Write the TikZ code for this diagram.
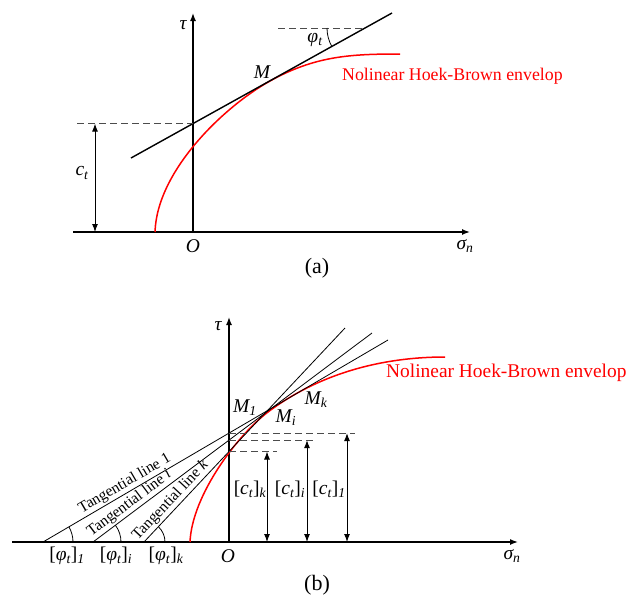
\documentclass[tikz,border=0pt]{standalone}
\usepackage{fontspec}
\setmainfont{Liberation Serif}
\usetikzlibrary{arrows.meta}
\begin{document}
\begin{tikzpicture}[x=1pt,y=-1pt,
  axis/.style={line width=1.4pt,-{Latex[length=8pt,width=6pt]}},
  tline/.style={line width=1.4pt},
  fline/.style={line width=0.8pt},
  envelope/.style={red,line width=1.5pt},
  guide/.style={dash pattern=on 7pt off 4pt,line width=1pt,black!70},
  dim/.style={line width=1pt,{Latex[length=8pt,width=6pt]}-{Latex[length=8pt,width=6pt]}},
  lab/.style={font=\fontsize{19.5}{22}\selectfont\itshape,inner sep=1pt},
  tlab/.style={font=\fontsize{15.5}{17}\selectfont,inner sep=1.5pt,sloped,above},
  redlab/.style={red,anchor=west,inner sep=0pt},
  captext/.style={font=\fontsize{22}{25}\selectfont}
]
\useasboundingbox (0,0) rectangle (632,603);

% ---------------- panel (a) ----------------
\coordinate (a-o) at (193,232);
\coordinate (a-xl) at (73,232);
\coordinate (a-xr) at (470,232);
\coordinate (a-yt) at (193,13);
\draw[axis] (a-xl) -- (a-xr);
\draw[axis] (a-o) -- (a-yt);
\node[lab] (a-tau) at (183,25) {τ};
\node[lab] (a-sig) at (465,246) {σ\textsubscript{n}};
\node[lab] (a-O) at (193,246) {O};

\coordinate (a-s) at (155,232);
\coordinate (a-m) at (270,81);
\coordinate (a-e) at (400,54);
\draw[envelope] (a-s) .. controls (157,170) and (225,106) .. (a-m)
  .. controls (315,56) and (350,54) .. (a-e);
\node[lab] (a-M) at (262,72) {M};
\node[redlab,font=\fontsize{17.8}{20}\selectfont] (a-red) at (342,76) {Nolinear Hoek-Brown envelop};

\coordinate (a-t1) at (131,158);
\coordinate (a-t2) at (392,13);
\draw[tline] (a-t1) -- (a-t2);

\coordinate (a-c) at (193,123.6);
\coordinate (a-cl) at (77,123.6);
\draw[guide] (a-cl) -- (a-c);
\coordinate (a-ctop) at (95,123.6);
\coordinate (a-cbot) at (95,232);
\draw[dim] (a-ctop) -- (a-cbot);
\node[lab] (a-ct) at (82,173) {c\textsubscript{t}};

\coordinate (a-pl) at (278,28);
\coordinate (a-pr) at (365,28);
\draw[guide] (a-pl) -- (a-pr);
\draw[fline] (a-pr) ++(180:38) arc[start angle=180,end angle=151,radius=38];
\node[lab] (a-phi) at (315,40) {φ\textsubscript{t}};

\node[captext] (a-cap) at (317,268) {(a)};

% ---------------- panel (b) ----------------
\coordinate (b-o) at (229,542);
\coordinate (b-xl) at (12,542);
\coordinate (b-xr) at (518,542);
\coordinate (b-yt) at (229,317);
\draw[axis] (b-xl) -- (b-xr);
\draw[axis] (b-o) -- (b-yt);
\node[lab] (b-tau) at (218,326) {τ};
\node[lab] (b-sig) at (512,556) {σ\textsubscript{n}};
\node[lab] (b-O) at (228,556) {O};

\coordinate (b-s) at (190,542);
\coordinate (b-m) at (268,412);
\coordinate (b-e) at (445,357);
\draw[envelope] (b-s) .. controls (192,495) and (238,434.5) .. (b-m)
  .. controls (318,374.5) and (380,357) .. (b-e);
\node[redlab,font=\fontsize{19.4}{22}\selectfont] (b-red) at (386,373) {Nolinear Hoek-Brown envelop};

\coordinate (b-p1) at (43,542);
\coordinate (b-q1) at (388,340);
\coordinate (b-pi) at (93,542);
\coordinate (b-qi) at (372,333);
\coordinate (b-pk) at (144,542);
\coordinate (b-qk) at (345,328);
\draw[fline] (b-p1) -- node[tlab,pos=0.25] (b-l1) {Tangential line 1} (b-q1);
\draw[fline] (b-pi) -- node[tlab,pos=0.15] (b-li) {Tangential line \textit{i}} (b-qi);
\draw[fline] (b-pk) -- node[tlab,pos=0.165] (b-lk) {Tangential line \textit{k}} (b-qk);

\draw[fline] (b-p1) ++(0:30) arc[start angle=0,end angle=-30.35,radius=30];
\draw[fline] (b-pi) ++(0:28) arc[start angle=0,end angle=-36.8,radius=28];
\draw[fline] (b-pk) ++(0:21) arc[start angle=0,end angle=-46.8,radius=21];
\node[lab] (b-f1) at (67,556) {{\upshape[}φ\textsubscript{t}{\upshape]}\textsubscript{1}};
\node[lab] (b-fi) at (116,556) {{\upshape[}φ\textsubscript{t}{\upshape]}\textsubscript{i}};
\node[lab] (b-fk) at (166,556) {{\upshape[}φ\textsubscript{t}{\upshape]}\textsubscript{k}};

\node[lab] (b-M1) at (245,408) {M\textsubscript{1}};
\node[lab] (b-Mi) at (286,418) {M\textsubscript{i}};
\node[lab] (b-Mk) at (316,400) {M\textsubscript{k}};

\coordinate (b-c1) at (229,433.1);
\coordinate (b-c1r) at (355,433.1);
\coordinate (b-ci) at (229,440.1);
\coordinate (b-cir) at (315,440.1);
\coordinate (b-ck) at (229,451.5);
\coordinate (b-ckr) at (277,451.5);
\draw[guide] (b-c1) -- (b-c1r);
\draw[guide] (b-ci) -- (b-cir);
\draw[guide] (b-ck) -- (b-ckr);
\coordinate (b-a1t) at (347,433.1);
\coordinate (b-a1b) at (347,542);
\coordinate (b-ait) at (307,440.1);
\coordinate (b-aib) at (307,542);
\coordinate (b-akt) at (267,451.5);
\coordinate (b-akb) at (267,542);
\draw[dim] (b-a1t) -- (b-a1b);
\draw[dim] (b-ait) -- (b-aib);
\draw[dim] (b-akt) -- (b-akb);
\node[lab] (b-ck-l) at (250,489) {{\upshape[}c\textsubscript{t}{\upshape]}\textsubscript{k}};
\node[lab] (b-ci-l) at (290,489) {{\upshape[}c\textsubscript{t}{\upshape]}\textsubscript{i}};
\node[lab] (b-c1-l) at (329,489) {{\upshape[}c\textsubscript{t}{\upshape]}\textsubscript{1}};

\node[captext] (b-cap) at (317,585) {(b)};
\end{tikzpicture}
\end{document}
